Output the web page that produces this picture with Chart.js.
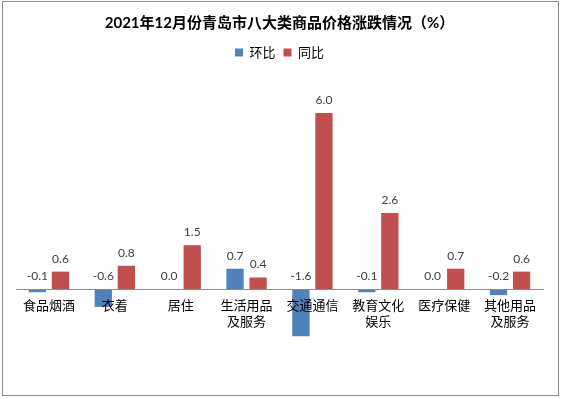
<!DOCTYPE html>
<html>
<head>
<meta charset="utf-8">
<script src="https://cdn.jsdelivr.net/npm/chart.js@4"></script>
<style>
html, body { margin: 0; padding: 0; background: #fff; }
#frame { position: absolute; left: 2px; top: 1px; width: 555px; height: 393px; border: 1px solid #8c8c8c; }
</style>
</head>
<body>
<div id="frame"><canvas id="priceChart" width="555" height="393"></canvas></div>
<script>
const categories = ["食品烟酒", "衣着", "居住", ["生活用品", "及服务"], "交通通信", ["教育文化", "娱乐"], "医疗保健", ["其他用品", "及服务"]];
const monthOnMonth = [-0.1, -0.6, 0.0, 0.7, -1.6, -0.1, 0.0, -0.2];   // 环比
const yearOnYear = [0.6, 0.8, 1.5, 0.4, 6.0, 2.6, 0.7, 0.6];          // 同比

const FONT = 'Lato, "Noto Sans CJK SC", sans-serif';

// value labels above each bar (negative bars get the label above the zero line)
const valueLabels = {
    id: "valueLabels",
    afterDatasetsDraw(chart) {
        const ctx = chart.ctx;
        ctx.save();
        ctx.font = "12px " + FONT;
        ctx.fillStyle = "#404040";
        ctx.textAlign = "center";
        ctx.textBaseline = "middle";
        chart.data.datasets.forEach((ds, i) => {
            chart.getDatasetMeta(i).data.forEach((bar, j) => {
                const top = Math.min(bar.y, bar.base);
                ctx.fillText(ds.data[j].toFixed(1), bar.x, top - 13);
            });
        });
        ctx.restore();
    }
};

new Chart(document.getElementById("priceChart").getContext("2d"), {
    type: "bar",
    data: {
        labels: categories,
        datasets: [
            { label: "环比", data: monthOnMonth, backgroundColor: "#4F81BD" },
            { label: "同比", data: yearOnYear, backgroundColor: "#C0504D" }
        ]
    },
    options: {
        responsive: false,
        animation: false,
        categoryPercentage: 0.7,
        barPercentage: 0.75,
        layout: { padding: { left: 13, right: 15, bottom: 47 } },
        plugins: {
            title: {
                display: true,
                text: "2021年12月份青岛市八大类商品价格涨跌情况（%）",
                color: "#000",
                font: { family: FONT, size: 15, weight: "bold" },
                padding: { top: 12, bottom: 6 }
            },
            legend: {
                labels: {
                    boxWidth: 8,
                    boxHeight: 8,
                    padding: 8,
                    color: "#000",
                    font: { family: FONT, size: 13 }
                }
            },
            tooltip: { enabled: false }
        },
        scales: {
            x: {
                position: { y: 0 },
                grid: { display: false, drawTicks: false },
                border: { color: "#8c8c8c", z: 1 },
                ticks: { color: "#000", font: { family: FONT, size: 13 }, padding: 9, maxRotation: 0, z: 1 }
            },
            y: { display: false, min: -2, max: 7.5 }
        }
    },
    plugins: [valueLabels]
});
</script>
</body>
</html>
